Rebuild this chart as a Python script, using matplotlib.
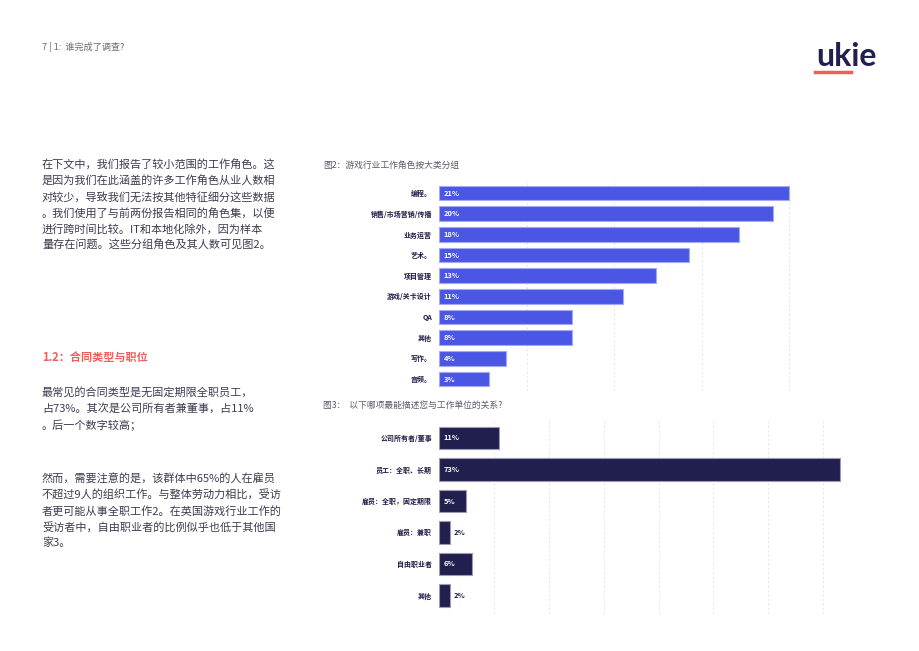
import matplotlib.pyplot as plt
import numpy as np

plt.rcParams['font.family'] = ['Noto Sans CJK SC', 'DejaVu Sans']

# figure 2 data
roles = ['编程。', '销售/市场营销/传播', '业务运营', '艺术。', '项目管理',
         '游戏/关卡设计', 'QA', '其他', '写作。', '音频。']
role_pct = [21, 20, 18, 15, 13, 11, 8, 8, 4, 3]

# figure 3 data
contracts = ['公司所有者/董事', '员工：全职、长期', '雇员：全职，固定期限',
             '雇员：兼职', '自由职业者', '其他']
contract_pct = [11, 73, 5, 2, 6, 2]

para1 = ['在下文中，我们报告了较小范围的工作角色。这',
         '是因为我们在此涵盖的许多工作角色从业人数相',
         '对较少，导致我们无法按其他特征细分这些数据',
         '。我们使用了与前两份报告相同的角色集，以便',
         '进行跨时间比较。IT和本地化除外，因为样本',
         '量存在问题。这些分组角色及其人数可见图2。']
para2 = ['最常见的合同类型是无固定期限全职员工，',
         '占73%。其次是公司所有者兼董事，占11%',
         '。后一个数字较高；']
para3 = ['然而，需要注意的是，该群体中65%的人在雇员',
         '不超过9人的组织工作。与整体劳动力相比，受访',
         '者更可能从事全职工作2。在英国游戏行业工作的',
         '受访者中，自由职业者的比例似乎也低于其他国',
         '家3。']

W, H = 920, 651
fig = plt.figure(figsize=(W / 100, H / 100), dpi=100)
text_col = '#3d3c50'

def px(x, y):
    return x / W, 1 - y / H

# header and logo
fig.text(*px(42, 47), '7 | 1:  谁完成了调查?', fontsize=6.6, color='#6b6b7b', va='center')
fig.text(*px(846, 56), 'ukie', fontsize=23, fontweight='bold', color='#221f4f',
         family='Lato', ha='center', va='center')
fig.add_artist(plt.Line2D([815 / W, 851 / W], [1 - 72 / H, 1 - 72 / H],
                          color='#f25c5c', lw=2.5))

# left column text
for i, line in enumerate(para1):
    fig.text(*px(42, 165 + 16 * i), line, fontsize=8, color=text_col, va='center')
fig.text(*px(42, 357), '1.2：合同类型与职位', fontsize=8, fontweight='bold',
         color='#f25c5c', va='center')
for i, line in enumerate(para2):
    fig.text(*px(42, 392 + 16.5 * i), line, fontsize=8, color=text_col, va='center')
for i, line in enumerate(para3):
    fig.text(*px(42, 479 + 16 * i), line, fontsize=8, color=text_col, va='center')

# chart titles
fig.text(*px(323, 165), '图2：游戏行业工作角色按大类分组', fontsize=6.3, color='#5a5a6a', va='center')
fig.text(*px(323, 405), '图3：  以下哪项最能描述您与工作单位的关系?', fontsize=6.3,
         color='#5a5a6a', va='center')


def bar_chart(rect, labels, values, xmax, step, color, edge, label_col, min_inside):
    ax = fig.add_axes(rect)
    y = np.arange(len(labels))
    ax.barh(y, values, height=0.7, color=color, edgecolor=edge, linewidth=0.8, zorder=3)
    ax.set_xlim(0, xmax)
    ax.set_ylim(len(labels) - 0.4, -0.6)
    ax.set_xticks(np.arange(step, xmax + 0.01, step))
    ax.grid(axis='x', color='#e8e8ec', linestyle=(0, (2, 2)), linewidth=0.8, zorder=0)
    ax.tick_params(length=0, labelbottom=False)
    ax.set_yticks(y)
    ax.set_yticklabels(labels, fontsize=5, fontweight='bold', color=label_col)
    ax.tick_params(axis='y', pad=5)
    for s in ax.spines.values():
        s.set_visible(False)
    for yi, v in zip(y, values):
        if v >= min_inside:
            ax.annotate(f'{v}%', (0, yi), xytext=(3.5, 0), textcoords='offset points',
                        va='center', fontsize=5.4, fontweight='bold', color='white', zorder=4)
        else:
            ax.annotate(f'{v}%', (v, yi), xytext=(2.5, 0), textcoords='offset points',
                        va='center', fontsize=5.4, fontweight='bold', color=label_col, zorder=4)
    return ax


# chart 2: rows 193..379, x 439..877
sp2 = (379 - 193) / 9
top2, bot2 = 193 - 0.6 * sp2, 379 + 0.6 * sp2
bar_chart([439 / W, 1 - bot2 / H, 438 / W, (bot2 - top2) / H], roles, role_pct,
          26.25, 5.25, '#4b57e4', '#a3a9f2', '#1f1d45', 3)

# chart 3: rows 438..595.5, x 439..878
sp3 = (595.5 - 438) / 5
top3, bot3 = 438 - 0.6 * sp3, 595.5 + 0.6 * sp3
bar_chart([439 / W, 1 - bot3 / H, 439 / W, (bot3 - top3) / H], contracts, contract_pct,
          80, 10, '#211f4d', '#9b99b5', '#1f1d45', 4)

fig.savefig('out.png', dpi=100)
